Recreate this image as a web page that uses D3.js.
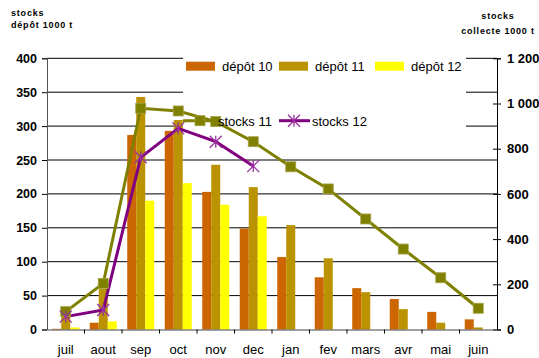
<!DOCTYPE html>
<html>
<head>
<meta charset="utf-8">
<script src="https://cdn.jsdelivr.net/npm/d3@7"></script>
<style>
  html, body { margin: 0; padding: 0; background: #fff; }
  svg { display: block; font-family: "Liberation Sans", Arial, sans-serif; }
</style>
</head>
<body>
<svg id="chart" width="539" height="358"></svg>
<script>
// Months of the campaign (July to June)
const months = ["juil", "aout", "sep", "oct", "nov", "dec", "jan", "fev", "mars", "avr", "mai", "juin"];

// Depot stocks, 1000 t (left axis)
const depot10 = [1, 10, 287, 293, 203, 149, 107, 77, 61, 45, 26, 15];
const depot11 = [25, 60, 343, 309, 243, 210, 154, 105, 55, 30, 10, 3];
const depot12 = [3, 12, 190, 216, 184, 167, null, null, null, null, null, null];

// Collection stocks, 1000 t (right axis)
const stocks11 = [79, 204, 979, 967, 920, 831, 720, 622, 489, 356, 229, 94];
const stocks12 = [57, 86, 762, 890, 831, 723];

const leftTicks = [0, 50, 100, 150, 200, 250, 300, 350, 400];
const rightTicks = [0, 200, 400, 600, 800, 1000, 1200];

const barSeries = [
  { name: "dépôt 10", values: depot10, color: "#CC6600" },
  { name: "dépôt 11", values: depot11, color: "#BB9300" },
  { name: "dépôt 12", values: depot12, color: "#FFFF00" }
];

const svg = d3.select("#chart");
const plotL = 47, plotR = 497, plotT = 58.3, plotB = 329.5;

const x = d3.scaleBand().domain(months).range([plotL, plotR]).padding(0);
const xs = d3.scaleBand().domain(barSeries.map(s => s.name))
  .range([x.bandwidth() * 0.14, x.bandwidth() * 0.86]).padding(0);
const yL = d3.scaleLinear().domain([0, 400]).range([plotB, plotT]);
const yR = d3.scaleLinear().domain([0, 1200]).range([plotB, plotT]);

const fr = d3.formatLocale({ decimal: ",", thousands: " ", grouping: [3], currency: ["", ""] });
const fmt = fr.format(",");

// horizontal gridlines
svg.append("g").selectAll("line").data(leftTicks.filter(d => d > 0)).join("line")
  .attr("x1", plotL).attr("x2", plotR)
  .attr("y1", d => yL(d)).attr("y2", d => yL(d))
  .attr("stroke", "#000").attr("stroke-width", 1);

// legend background panel
svg.append("rect").attr("x", 183).attr("y", 50).attr("width", 283).attr("height", 78).attr("fill", "#fff");

// bars
const bars = svg.append("g");
barSeries.forEach(s => {
  bars.append("g").selectAll("rect")
    .data(months.map((m, i) => ({ m, v: s.values[i] })).filter(d => d.v != null))
    .join("rect")
    .attr("x", d => x(d.m) + xs(s.name))
    .attr("width", xs.bandwidth())
    .attr("y", d => yL(d.v))
    .attr("height", d => yL(0) - yL(d.v))
    .attr("fill", s.color);
});

// axes
const gL = svg.append("g").attr("transform", `translate(${plotL},0)`)
  .call(d3.axisLeft(yL).tickValues(leftTicks).tickSize(5).tickPadding(5));
gL.select(".domain").attr("stroke", "#555");
gL.selectAll("text").attr("font-size", 12.5).attr("font-weight", "bold")
  .attr("font-family", "Liberation Sans, Arial, sans-serif").attr("fill", "#000");

const gR = svg.append("g").attr("transform", `translate(${plotR},0)`)
  .call(d3.axisRight(yR).tickValues(rightTicks).tickFormat(fmt).tickSize(4).tickPadding(6));
gR.selectAll(".tick line").attr("x1", -4).attr("x2", 4);
gR.selectAll("text").attr("font-size", 13).attr("font-weight", "bold")
  .attr("font-family", "Liberation Sans, Arial, sans-serif").attr("fill", "#000");

const gB = svg.append("g").attr("transform", `translate(0,${plotB})`)
  .call(d3.axisBottom(x).tickSize(0).tickPadding(15));
gB.select(".domain").attr("stroke", "#444");
gB.selectAll("text").attr("font-size", 13).attr("font-family", "Liberation Sans, Arial, sans-serif").attr("fill", "#000");
gB.append("g").selectAll("line").data(months.slice(1)).join("line")
  .attr("x1", d => x(d)).attr("x2", d => x(d)).attr("y1", 0).attr("y2", 4)
  .attr("stroke", "#000");

// stock lines
const cx = (d, i) => x(months[i]) + x.bandwidth() / 2;
const line11 = d3.line().x(cx).y(d => yR(d));
const line12 = d3.line().x(cx).y(d => yR(d));

svg.append("path").datum(stocks11).attr("d", line11)
  .attr("fill", "none").attr("stroke", "#808000").attr("stroke-width", 3);
svg.append("path").datum(stocks12).attr("d", line12)
  .attr("fill", "none").attr("stroke", "#800080").attr("stroke-width", 3);

function square(g, px, py) {
  g.append("rect").attr("x", px - 5).attr("y", py - 5).attr("width", 10).attr("height", 10)
    .attr("fill", "#808000").attr("stroke", "#A3A34A").attr("stroke-width", 0.8);
}
function star(g, px, py) {
  const r = 6;
  g.append("path")
    .attr("d", `M${px - r},${py - r}L${px + r},${py + r}M${px - r},${py + r}L${px + r},${py - r}M${px},${py - r}L${px},${py + r}`)
    .attr("stroke", "#9B30A0").attr("stroke-width", 1.3).attr("fill", "none");
}

const m11 = svg.append("g");
stocks11.forEach((d, i) => square(m11, cx(d, i), yR(d)));
const m12 = svg.append("g");
stocks12.forEach((d, i) => star(m12, cx(d, i), yR(d)));

// legend
const lg = svg.append("g").attr("font-size", 13).attr("fill", "#000");
const legX = [186, 279, 375];
barSeries.forEach((s, i) => {
  lg.append("rect").attr("x", legX[i]).attr("y", 61.7).attr("width", 29).attr("height", 9).attr("fill", s.color);
  lg.append("text").attr("x", legX[i] + 36).attr("y", 71).text(s.name);
});
lg.append("line").attr("x1", 183).attr("x2", 217).attr("y1", 120.7).attr("y2", 120.7)
  .attr("stroke", "#808000").attr("stroke-width", 3);
square(lg, 200, 120.7);
lg.append("text").attr("x", 218).attr("y", 125.5).text("stocks 11");
lg.append("line").attr("x1", 279).attr("x2", 310).attr("y1", 120.7).attr("y2", 120.7)
  .attr("stroke", "#800080").attr("stroke-width", 3);
star(lg, 294, 120.7);
lg.append("text").attr("x", 312).attr("y", 125.5).text("stocks 12");

// axis titles
const t = svg.append("g").attr("font-size", 9).attr("font-weight", "bold").attr("letter-spacing", 0.8);
t.append("text").attr("x", 11).attr("y", 16).text("stocks");
t.append("text").attr("x", 11).attr("y", 28).text("dépôt 1000 t");
t.append("text").attr("x", 498).attr("y", 19).attr("text-anchor", "middle").text("stocks");
t.append("text").attr("x", 498).attr("y", 34).attr("text-anchor", "middle").text("collecte 1000 t");
</script>
</body>
</html>
